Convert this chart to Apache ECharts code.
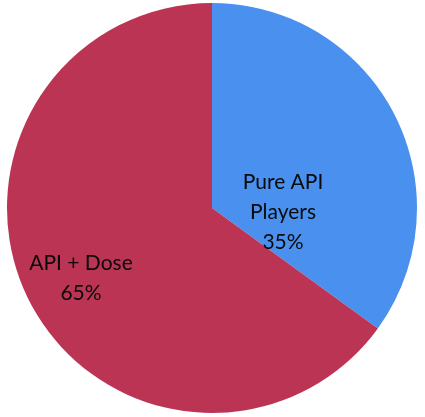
<!DOCTYPE html>
<html><head><meta charset="utf-8">
<script src="https://cdn.jsdelivr.net/npm/echarts@6/dist/echarts.min.js"></script>
<style>html,body{margin:0;padding:0;background:#fff}#c{width:425px;height:417px}</style>
</head><body><div id="c"></div>
<script>
const categories = ['Pure API\nPlayers', 'API + Dose'];
const values = [35, 65];
const colors = ['#4A90EE', '#BC3454'];
const labelOffsets = [[-23, 52], [-37, 22]];

const chart = echarts.init(document.getElementById('c'));
chart.setOption({
  animation: false,
  series: [{
    type: 'pie',
    center: [212, 208],
    radius: 205,
    startAngle: 90,
    clockwise: true,
    data: categories.map((c, i) => ({
      name: c, value: values[i],
      itemStyle: { color: colors[i] },
      label: { offset: labelOffsets[i] }
    })),
    itemStyle: { borderWidth: 0 },
    label: {
      show: true, position: 'inside',
      formatter: p => p.name + '\n' + p.value + '%',
      fontFamily: 'Lato', fontSize: 21, lineHeight: 30, color: '#0a0a0a',
      textBorderWidth: 0, align: 'center'
    },
    labelLine: { show: false },
    emphasis: { disabled: true }
  }]
});
</script></body></html>
